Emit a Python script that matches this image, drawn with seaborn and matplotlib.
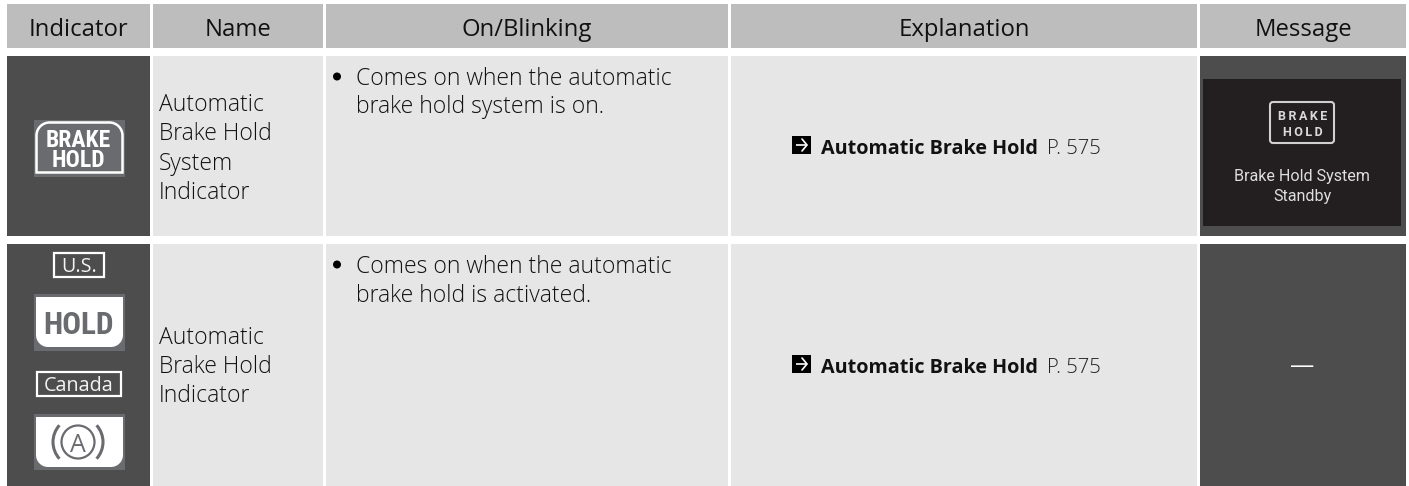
import matplotlib
matplotlib.use("Agg")
import matplotlib.pyplot as plt
import seaborn as sns
from matplotlib.patches import Rectangle, FancyBboxPatch, PathPatch, Circle, Arc
from matplotlib.path import Path

headers = ["Indicator", "Name", "On/Blinking", "Explanation", "Message"]
col_left = [7, 153, 326, 731, 1200]
col_right = [150, 323, 728, 1197, 1406]
row_top = [4, 56, 244]
row_bottom = [48, 236, 486]
names = [["Automatic", "Brake Hold", "System", "Indicator"],
         ["Automatic", "Brake Hold", "Indicator"]]
name_y = [[102, 131, 161, 190], [335, 364, 393]]
blink = [["Comes on when the automatic", "brake hold system is on."],
         ["Comes on when the automatic", "brake hold is activated."]]
blink_y = [[76, 104], [264, 293]]
ref_bold = "Automatic Brake Hold"
ref_page = "P. 575"
ref_y = [146, 365]
regions = ["U.S.", "Canada"]
message_lines = ["Brake Hold System", "Standby"]

HEAD = "#bdbdbd"; LIGHT = "#e6e6e6"; DARK = "#4d4d4d"; ICON = "#6a6b6e"; INK = "#111111"
FONT = "Open Sans"; NARROW = "Roboto Condensed"; MSG = "Roboto"

sns.set_theme(style="white")
plt.rcParams["font.family"] = [FONT, "DejaVu Sans"]
fig = plt.figure(figsize=(14.09, 4.86), dpi=100, facecolor="white")
ax = fig.add_axes([0, 0, 1, 1])
ax.set_xlim(0, 1409); ax.set_ylim(486, 0); ax.axis("off")
sns.despine(ax=ax, left=True, bottom=True)


def rect(x0, y0, x1, y1, color, **kw):
    ax.add_patch(Rectangle((x0, y0), x1 - x0, y1 - y0, facecolor=color, edgecolor="none", **kw))


def rounded(x0, y0, x1, y1, r, top, fc, ec="none", lw=0):
    k = 0.45 * r
    if top:
        v = [(x0, y1), (x0, y0 + r), (x0, y0 + k), (x0 + k, y0), (x0 + r, y0), (x1 - r, y0),
             (x1 - k, y0), (x1, y0 + k), (x1, y0 + r), (x1, y1), (x0, y1)]
    else:
        v = [(x0, y0), (x0, y1 - r), (x0, y1 - k), (x0 + k, y1), (x0 + r, y1), (x1 - r, y1),
             (x1 - k, y1), (x1, y1 - k), (x1, y1 - r), (x1, y0), (x0, y0)]
    c = [Path.MOVETO, Path.LINETO, Path.CURVE4, Path.CURVE4, Path.CURVE4, Path.LINETO,
         Path.CURVE4, Path.CURVE4, Path.CURVE4, Path.LINETO, Path.CLOSEPOLY]
    ax.add_patch(PathPatch(Path(v, c), facecolor=fc, edgecolor=ec, linewidth=lw))


def txt(x, y, s, size=16.5, color=INK, ha="left", **kw):
    return ax.text(x, y, s, fontsize=size, color=color, ha=ha, va="center_baseline", **kw)


# cells
for i, h in enumerate(headers):
    rect(col_left[i], row_top[0], col_right[i], row_bottom[0], HEAD)
    txt((col_left[i] + col_right[i]) / 2, 27, h, size=17.2, ha="center")
    for r in (1, 2):
        rect(col_left[i], row_top[r], col_right[i], row_bottom[r],
             DARK if i in (0, 4) else LIGHT)

# text columns
for r in range(2):
    for s, y in zip(names[r], name_y[r]):
        txt(159, y, s, weight="light")
    for s, y in zip(blink[r], blink_y[r]):
        txt(356, y, s, weight="light")
    ax.add_patch(Circle((337, blink_y[r][0] + 0.5), 4, facecolor="black", edgecolor="none"))
    y = ref_y[r]
    rect(792, y - 10, 811, y + 8, "#000000")
    ax.plot([796, 807], [y - 1, y - 1], color="white", lw=1.2, solid_capstyle="butt")
    ax.plot([802, 807, 802], [y - 7, y - 1, y + 5], color="white", lw=1.2, solid_joinstyle="miter")
    txt(821, y, ref_bold, size=14.2, weight="bold")
    txt(1047, y, ref_page, size=14.6, color="#222222", weight="light")

# icon 1
rect(34, 120, 125, 177, ICON)
rounded(36.5, 122.5, 122.5, 172.5, 13, True, ICON, "white", 1.8)
txt(78, 137.5, "BRAKE", 17, "white", "center", family=NARROW, weight="bold")
txt(78, 158, "HOLD", 17, "white", "center", family=NARROW, weight="bold")

# region labels
for s, (x0, y0, x1, y1) in zip(regions, [(54, 253, 104, 277), (37, 372, 121, 396)]):
    ax.add_patch(Rectangle((x0, y0), x1 - x0, y1 - y0, facecolor=DARK, edgecolor="white", linewidth=1.6))
    txt((x0 + x1) / 2, (y0 + y1) / 2 - 0.5, s, 14.2, "#f2f2f2", "center")

# HOLD icon
rect(34, 294, 125, 351, ICON)
rounded(36, 297, 123, 347, 12, False, "white")
txt(78.5, 322, "HOLD", 22.5, ICON, "center", family=NARROW, weight="bold")

# (A) icon
rect(34, 414, 125, 470, ICON)
rounded(36, 417, 123, 467, 12, False, "white")
ax.add_patch(Circle((78, 442), 16.5, facecolor="none", edgecolor=ICON, linewidth=1.6))
txt(78, 442, "A", 18, ICON, "center")
ax.add_patch(Arc((78, 442), 50, 50, theta1=-42, theta2=42, color=ICON, lw=2.2))
ax.add_patch(Arc((78, 442), 50, 50, theta1=138, theta2=222, color=ICON, lw=2.2))

# message panel
rect(1203, 79, 1401, 226, "#231f20")
ax.add_patch(FancyBboxPatch((1270, 102), 64, 41, boxstyle="round,pad=0,rounding_size=3",
                            facecolor="none", edgecolor="#d0d0d0", linewidth=1.5))
txt(1302.5, 114.5, "B\u2009R\u2009A\u2009K\u2009E", 9, "#d8d8d8", "center", family=MSG, weight="bold")
txt(1302.5, 130.5, "H\u2009O\u2009L\u2009D", 9, "#d8d8d8", "center", family=MSG, weight="bold")
for s, y in zip(message_lines, [175, 195]):
    txt(1302, y, s, 11.6, "#dedede", "center", family=MSG)
txt(1302, 364, "\u2014", 17.5, "white", "center")

fig.savefig("out.png", dpi=100, facecolor="white")
